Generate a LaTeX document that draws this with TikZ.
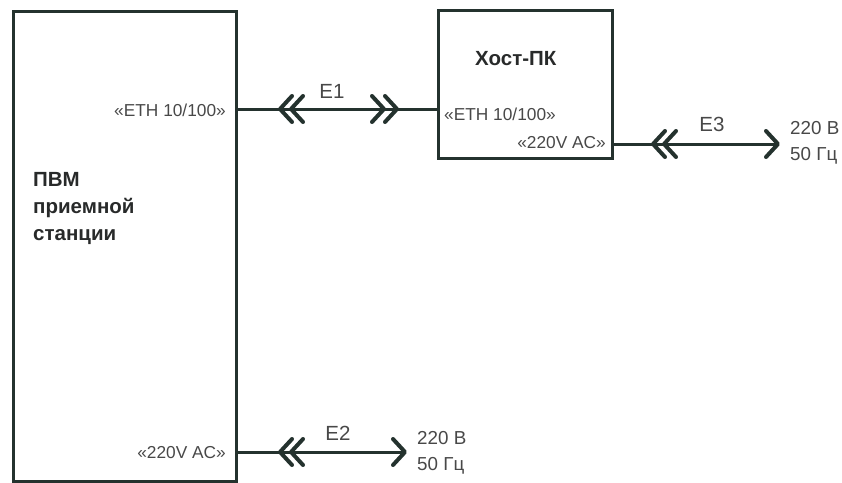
\documentclass[tikz,border=0pt]{standalone}
\usepackage{fontspec}
\setmainfont{Liberation Sans}
\definecolor{ln}{RGB}{36,50,46}
\definecolor{tx}{RGB}{72,72,72}
\definecolor{tb}{RGB}{40,42,42}
\begin{document}
\begin{tikzpicture}[x=1pt,y=-1pt,
  box/.style={draw=ln, line width=3pt, inner sep=0pt, outer sep=0pt},
  wire/.style={draw=ln, line width=3pt},
  chevline/.style={draw=ln, line width=4pt, line cap=round, line join=round},
  port/.style={inner sep=0pt, text=tx, font=\fontsize{17.3}{19}\selectfont},
  elab/.style={inner sep=0pt, text=tx, font=\fontsize{20.5}{22}\selectfont},
  supply/.style={inner sep=0pt, text=tx, font=\fontsize{18.8}{26}\selectfont, align=left, anchor=north west},
  title/.style={inner sep=0pt, text=tb, font=\bfseries\fontsize{20.5}{27}\selectfont, align=left},
  lchev/.pic={\draw[chevline] (12,-13) -- (0,0) -- (12,13);},
  rchev/.pic={\draw[chevline] (-12,-13) -- (0,0) -- (-12,13);}
]
\useasboundingbox (0,0) rectangle (842,482);

% boxes
\node[box, anchor=north west, minimum width=223pt, minimum height=470pt] (pvm) at (13,11) {};
\node[box, anchor=north west, minimum width=174pt, minimum height=148pt] (host) at (438,10) {};

% titles
\node[title, anchor=north west] (pvmt) at (33,172.3) {ПВМ\\приемной\\станции};
\node[title, anchor=base west] (hostt) at (475,65) {Хост-ПК};

% port labels
\node[port, anchor=base east] (p1) at (226,116) {«ETH 10/100»};
\node[port, anchor=base west] (p2) at (444,120) {«ETH 10/100»};
\node[port, anchor=base east] (p3) at (606,148) {«220V AC»};
\node[port, anchor=base east] (p4) at (226,458) {«220V AC»};

% helper levels
\coordinate (y1) at (0,109);
\coordinate (y2) at (0,452);
\coordinate (y3) at (0,144);
\coordinate (e2end) at (405,452);
\coordinate (e3end) at (778,144);

% connectors
\draw[wire] (pvm.east |- y1) -- (host.west |- y1);
\pic at (280,109) {lchev};
\pic at (291,109) {lchev};
\pic at (384,109) {rchev};
\pic at (397,109) {rchev};
\node[elab, anchor=base] (e1) at (332,98) {E1};

\draw[wire] (pvm.east |- y2) -- (e2end);
\pic at (280,452) {lchev};
\pic at (291,452) {lchev};
\pic at (e2end) {rchev};
\node[elab, anchor=base] (e2) at (338,440) {E2};
\node[supply] (s2) at (417,431.5) {220 В\\50 Гц};

\draw[wire] (host.east |- y3) -- (e3end);
\pic at (653,144) {lchev};
\pic at (664,144) {lchev};
\pic at (e3end) {rchev};
\node[elab, anchor=base] (e3) at (712,131) {E3};
\node[supply] (s3) at (790,121.5) {220 В\\50 Гц};
\end{tikzpicture}
\end{document}
